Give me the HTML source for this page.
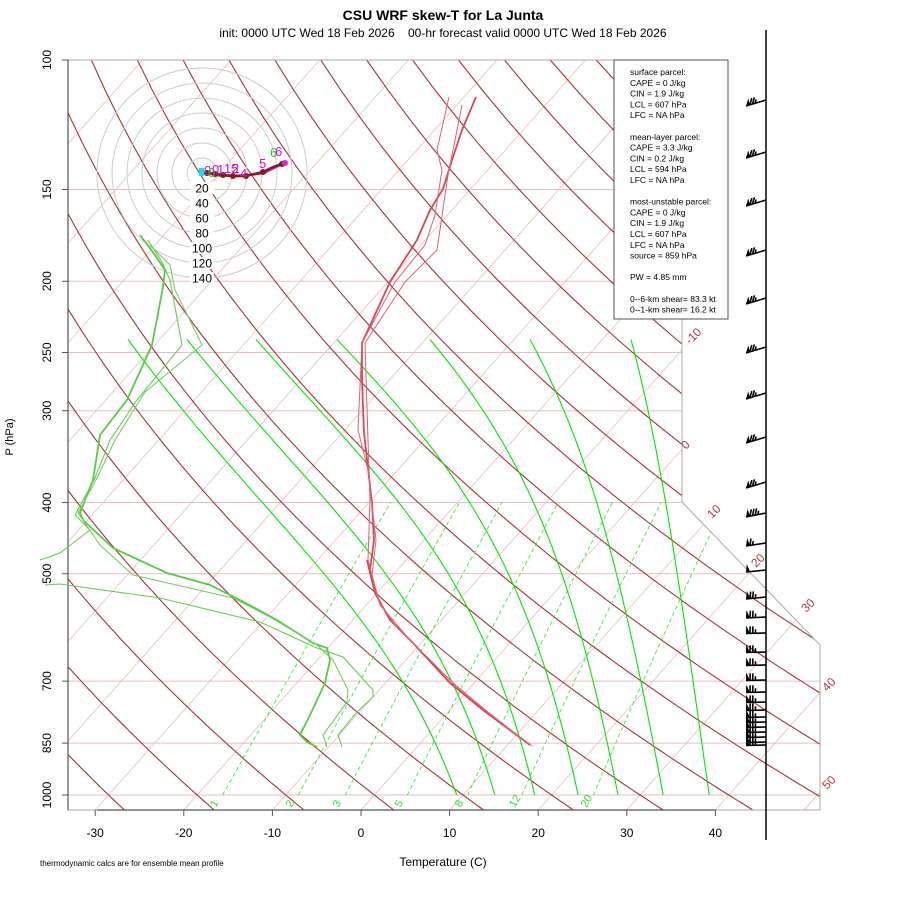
<!DOCTYPE html>
<html><head><meta charset="utf-8">
<style>
html,body{margin:0;padding:0;background:#fff;}
svg{display:block;font-family:"Liberation Sans",sans-serif;}
</style></head>
<body>
<svg id="s" width="900" height="900" viewBox="0 0 900 900" xmlns="http://www.w3.org/2000/svg">
<defs>
<clipPath id="cp"><polygon points="68,60 682,60 682,502 820,645 820,810 68,810"/></clipPath>
</defs>
<rect width="900" height="900" fill="#fff"/>
<g id="bg" clip-path="url(#cp)"></g>
<g id="fg"></g>
<text x="443" y="20" text-anchor="middle" font-size="14" font-weight="bold">CSU WRF skew-T for La Junta</text>
<text x="443" y="37" text-anchor="middle" font-size="12" xml:space="preserve">init: 0000 UTC Wed 18 Feb 2026    00-hr forecast valid 0000 UTC Wed 18 Feb 2026</text>
<text x="443" y="866" text-anchor="middle" font-size="12">Temperature (C)</text>
<text x="40" y="866" font-size="8">thermodynamic calcs are for ensemble mean profile</text>
<text transform="translate(13,437) rotate(-90)" text-anchor="middle" font-size="11">P (hPa)</text>
</svg>
<script>
var NS="http://www.w3.org/2000/svg";
var bg=document.getElementById('bg'), fg=document.getElementById('fg');
function el(par,tag,a,txt){var e=document.createElementNS(NS,tag);for(var k in a)e.setAttribute(k,a[k]);if(txt!==undefined)e.textContent=txt;par.appendChild(e);return e;}
function yP(p){return 795-319.2*Math.log(1000/p);}
function xT(T,y){return 361+8.86*T+0.89*(810-y);}
function pl(par,pts,st){el(par,'polyline',Object.assign({points:pts.map(function(q){return q[0].toFixed(1)+','+q[1].toFixed(1)}).join(' '),fill:'none'},st));}
[150,200,250,300,400,500,700,850,1000].forEach(function(p){var y=yP(p);el(bg,'line',{x1:68,x2:820,y1:y,y2:y,stroke:'#e6c0c0','stroke-width':1});});
for(var T=-160;T<=50;T+=10){var y1=810,y2=60;el(bg,'line',{x1:xT(T,y1),y1:y1,x2:xT(T,y2),y2:y2,stroke:'#ebbcbc','stroke-width':0.8});}
for(var th=-30;th<=220;th+=10){var pts=[];for(var p=1050;p>=100;p-=10){var Tk=(th+273.15)*Math.pow(p/1000,0.2857);var y=yP(p);pts.push([xT(Tk-273.15,y),y]);}pl(bg,pts,{stroke:'#a83232','stroke-width':1.1});}
[1,2,3,5,8,12,20].forEach(function(w){var pts=[];for(var p=1000;p>=400;p-=10){var e=w*p/(622+w);var l=Math.log(e/6.112);var Td=243.5*l/(17.67-l);var y=yP(p);pts.push([xT(Td,y),y]);}pl(bg,pts,{stroke:'#33ee33','stroke-width':0.9,'stroke-dasharray':'4,3'});
 var e=w*1000/(622+w),l=Math.log(e/6.112),Td=243.5*l/(17.67-l);var x=xT(Td,805);el(fg,'text',{x:0,y:0,'font-size':11,fill:'#33dd33',transform:'translate('+(x+2)+',808) rotate(-60)'},String(w));});
function es(Tc){return 6.112*Math.exp(17.67*Tc/(Tc+243.5));}
function dTdp(Tk,p){var rs=0.622*es(Tk-273.15)/(p-es(Tk-273.15));var Rd=287,cp=1005,Lv=2.5e6;return (Rd*Tk+Lv*rs)/(cp+Lv*Lv*rs*0.622/(Rd*Tk*Tk))/p;}
var tops=[128,187,256,337,430,530,631];
[9.3,13.6,18.1,23,27.5,32.6,37.8].forEach(function(T0,idx){var pts=[];var Tk=T0+273.15,p=1000;var dp=-2;pts.push([xT(T0,yP(1000)),yP(1000)]);
 while(p>240){Tk+=dTdp(Tk,p)*dp;p+=dp;if(Math.round(p)%10==0)pts.push([xT(Tk-273.15,yP(p)),yP(p)]);}
 var last=pts[pts.length-1];var off=tops[idx]-last[0];var yb=795,yt=last[1];
 pts=pts.map(function(q){var f=(yb-q[1])/(yb-yt);return [q[0]+off*f,q[1]];});
 pl(bg,pts,{stroke:'#00e800','stroke-width':1.1});});
el(fg,'polygon',{points:'68,60 682,60 682,502 820,645 820,810 68,810',fill:'none',stroke:'#aaa','stroke-width':1});
el(fg,'line',{x1:68,y1:60,x2:68,y2:810,stroke:'#555','stroke-width':1.2});
el(fg,'line',{x1:97,y1:810,x2:716,y2:810,stroke:'#555','stroke-width':1.2});
[100,150,200,250,300,400,500,700,850,1000].forEach(function(p){var y=yP(p);el(fg,'line',{x1:62,x2:68,y1:y,y2:y,stroke:'#555'});el(fg,'text',{transform:'translate(51,'+y+') rotate(-90)','text-anchor':'middle','font-size':12},String(p));});
for(var T=-30;T<=40;T+=10){var x=361+8.86*T;el(fg,'line',{x1:x,x2:x,y1:810,y2:816,stroke:'#555'});el(fg,'text',{x:x,y:837,'text-anchor':'middle','font-size':12},String(T));}
[[-10,690,345],[0,686,450],[10,712,519],[20,756,568],[30,806,613],[40,827,692],[50,827,790]].forEach(function(a){el(fg,'text',{transform:'translate('+a[1]+','+a[2]+') rotate(-45)','font-size':12,fill:'#b03a3a'},String(a[0]));});
el(fg,'rect',{x:614,y:60,width:114,height:259,fill:'#fff',stroke:'#555','stroke-width':1});
var L=[[0,'surface parcel:'],[1,'CAPE = 0 J/kg'],[2,'CIN = 1.9 J/kg'],[3,'LCL = 607 hPa'],[4,'LFC = NA hPa'],[6,'mean-layer parcel:'],[7,'CAPE = 3.3 J/kg'],[8,'CIN = 0.2 J/kg'],[9,'LCL = 594 hPa'],[10,'LFC = NA hPa'],[12,'most-unstable parcel:'],[13,'CAPE = 0 J/kg'],[14,'CIN = 1.9 J/kg'],[15,'LCL = 607 hPa'],[16,'LFC = NA hPa'],[17,'source = 859 hPa'],[19,'PW =  4.85 mm'],[21,'0--6-km shear= 83.3 kt'],[22,'0--1-km shear= 16.2 kt']];
L.forEach(function(a){el(fg,'text',{x:630,y:75+a[0]*10.8,'font-size':8.5,'xml:space':'preserve'},a[1]);});
for(var i=1;i<=7;i++)el(fg,'circle',{cx:202,cy:173,r:15*i,fill:'none',stroke:'#ccc','stroke-width':1});
for(var i=1;i<=7;i++){var y=173+15*i;el(fg,'rect',{x:190,y:y-6,width:24,height:12,fill:'#fff'});el(fg,'text',{x:202,y:y+4.5,'text-anchor':'middle','font-size':12},String(20*i));}
pl(fg,[[206,172],[214,175],[222,176],[232,176],[245,176],[262,173],[271,168],[283,163]],{stroke:'#22dd22','stroke-width':2.5});
pl(fg,[[206,172],[214,174],[224,175],[234,176],[248,175],[264,173],[272,169],[284,163]],{stroke:'#dd22dd','stroke-width':2.5});
pl(fg,[[207,173],[215,174],[223,175],[233,176],[246,176],[263,172],[271,168],[282,164]],{stroke:'#8b1a1a','stroke-width':2.5});
[[207,173],[215,174],[223,175],[233,176],[246,176],[263,172],[282,164]].forEach(function(q){el(fg,'circle',{cx:q[0],cy:q[1],r:3,fill:'#8b1a1a'});});
el(fg,'circle',{cx:285,cy:163,r:3,fill:'#dd22dd'});
el(fg,'rect',{x:199,y:168,width:5,height:8,fill:'#00e5ee'});
[['0',204,175,'#cc11cc'],['0',208,177,'#22cc22'],['0',212,174,'#cc11cc'],['1',217,174,'#cc11cc'],['15',224,173,'#cc11cc'],['2',232,173,'#cc11cc'],['4',240,178,'#cc11cc'],['5',259,168,'#cc11cc'],['6',270,157,'#22cc22'],['6',275,156,'#cc11cc']].forEach(function(a){el(fg,'text',{x:a[1],y:a[2],'font-size':13,fill:a[3]},a[0]);});
var g1='#55cc44';
pl(fg,[[140,235],[155,255],[165,270],[163,287],[152,345],[127,400],[100,435],[93,480],[80,513],[83,520],[113,548],[167,573],[210,585],[240,600],[277,620],[313,643],[327,648],[330,660],[325,683],[310,715],[300,735],[307,742],[317,747]],{stroke:g1,'stroke-width':1.8});
pl(fg,[[148,240],[162,262],[170,280],[182,345],[137,400],[110,440],[95,478],[75,515],[90,530],[60,553],[40,560]],{stroke:'#66cc55','stroke-width':1.1});
pl(fg,[[150,245],[170,265],[175,290],[202,345],[145,392],[115,440],[97,478],[78,513],[100,545],[133,575],[233,598],[270,617],[317,645],[333,660],[348,690],[347,702],[323,735],[327,747]],{stroke:'#77cc66','stroke-width':1.1});
pl(fg,[[45,585],[60,584],[160,598],[260,622],[317,648],[343,657],[373,690],[373,697],[357,712],[338,735],[342,747]],{stroke:'#66cc55','stroke-width':1.1});
var r='#dd4455';
pl(fg,[[476,97],[462,130],[452,160],[443,189],[430,210],[417,240],[390,282],[362,343],[362,380],[364,433],[372,503],[374,540],[370,570],[367,560],[375,593],[390,620],[413,643],[450,683],[483,710],[530,745]],{stroke:r,'stroke-width':1.8});
pl(fg,[[449,97],[437,150],[442,170],[435,215],[425,245],[395,282],[362,343],[358,430],[368,470],[376,540],[372,575],[378,600],[395,625],[418,648],[455,685],[488,712],[528,744]],{stroke:'#e06070','stroke-width':1});
pl(fg,[[462,105],[448,175],[437,250],[405,282],[365,343],[368,440],[370,500],[368,560],[380,605],[410,640],[452,682],[486,711],[532,746]],{stroke:'#e06070','stroke-width':1});
el(fg,'line',{x1:766,y1:30,x2:766,y2:840,stroke:'#000','stroke-width':1.5});
function barb(y,dy,n){var x0=766,x1=746,y1=y+dy;el(fg,'line',{x1:x0,y1:y,x2:x1,y2:y1,stroke:'#000','stroke-width':1.6});
 var len=Math.hypot(20,dy),ux=20/len,uy=-dy/len;
 var Px=dy/len, Py=-20/len;
 el(fg,'polygon',{points:x1+','+y1+' '+(x1+Px*8)+','+(y1+Py*8)+' '+(x1+ux*4)+','+(y1+uy*4),fill:'#000'});
 for(var i=0;i<n;i++){var bx=x1+ux*(4+2.7*i),by=y1+uy*(4+2.7*i);var Ln=(i==n-1)?4:7;el(fg,'line',{x1:bx,y1:by,x2:bx+Px*Ln,y2:by+Py*Ln,stroke:'#000','stroke-width':1.6});}}
[100,152,200,250,298,347,393,437,482].forEach(function(y){barb(y,6,3);});
barb(513,4,4);barb(543,3,2);barb(570,2,0);barb(597,2,3);barb(617,1,3);
[633,652,665,680,692,702,710,717,722,727,732,737,742,745].forEach(function(y){barb(y,0.5,3);});
</script>
</body></html>
